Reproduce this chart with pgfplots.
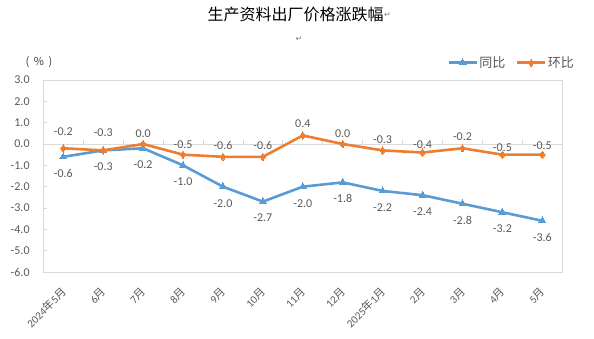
\documentclass[border=0pt]{standalone}
\usepackage{pgfplots}
\pgfplotsset{compat=1.18}
\usepackage{pgfplotstable}
\usepackage{fontspec}
\setmainfont{Carlito}
\newfontfamily\cjk{Noto Sans CJK SC}
\newfontfamily\dejavu{DejaVu Sans}
\definecolor{cblue}{HTML}{5B9BD5}
\definecolor{corange}{HTML}{ED7D31}
\definecolor{txt}{HTML}{595959}
\definecolor{gridc}{HTML}{D9D9D9}

\pgfplotstableread{
x y lab dy
0 -0.6 -0.6 -16.5
1 -0.3 -0.3 -16.5
2 -0.2 -0.2 -16.5
3 -1.0 -1.0 -16.5
4 -2.0 -2.0 -16.5
5 -2.7 -2.7 -16.5
6 -2.0 -2.0 -16.5
7 -1.8 -1.8 -16.5
8 -2.2 -2.2 -16.5
9 -2.4 -2.4 -16.5
10 -2.8 -2.8 -16.5
11 -3.2 -3.2 -16.5
12 -3.6 -3.6 -16.5
}\tongbi

\pgfplotstableread{
x y lab dy
0 -0.2 -0.2 17
1 -0.3 -0.3 17.5
2 0.0 0.0 10
3 -0.5 -0.5 9.7
4 -0.6 -0.6 11
5 -0.6 -0.6 11
6 0.4 0.4 12
7 0.0 0.0 10.4
8 -0.3 -0.3 10.7
9 -0.4 -0.4 7.7
10 -0.2 -0.2 11.7
11 -0.5 -0.5 7
12 -0.5 -0.5 9.3
}\huanbi

\newcommand{\nian}{{\cjk 年}}
\newcommand{\yue}{{\cjk 月}}
\newcommand{\dy}{0}

\begin{document}
\begin{tikzpicture}
\path[use as bounding box] (0,0) rectangle (594pt,338pt);
% title
\node[font=\cjk\fontsize{16}{16}\selectfont, text=black, inner sep=0pt] at (295.5pt,324pt) {生产资料出厂价格涨跌幅};
\node[font=\dejavu\fontsize{8}{8}\selectfont, text=gray, inner sep=0pt] at (387.5pt,323pt) {↵};
\node[font=\dejavu\fontsize{8}{8}\selectfont, text=gray, inner sep=0pt] at (299pt,299pt) {↵};
\node[font=\cjk\fontsize{11}{11}\selectfont, text=black!75, inner sep=0pt] at (39pt,276pt) {(\hspace{4.5pt}\%\hspace{4.5pt})};
\begin{axis}[
  at={(43.3pt,66pt)}, anchor=south west,
  width=519pt, height=192pt, scale only axis,
  xmin=-0.5, xmax=12.5, ymin=-6, ymax=3,
  axis line style={gridc, line width=0.8pt},
  xtick={0,...,12},
  xticklabels={2024\nian5\yue,6\yue,7\yue,8\yue,9\yue,10\yue,11\yue,12\yue,2025\nian1\yue,2\yue,3\yue,4\yue,5\yue},
  xtick style={draw=none},
  xticklabel style={rotate=45, anchor=north east, inner sep=0pt, xshift=-12pt, yshift=-8pt, font=\fontsize{11}{11}\selectfont, text=txt},
  ytick={-6,...,3},
  yticklabels={-6.0,-5.0,-4.0,-3.0,-2.0,-1.0,0.0,1.0,2.0,3.0},
  ytick pos=left,
  tick align=inside,
  major tick length=4pt,
  ytick style={gridc, line width=0.8pt},
  yticklabel style={anchor=east, inner sep=0pt, xshift=-13.5pt, font=\fontsize{12}{12}\selectfont, text=txt},
  clip=false,
  legend columns=2,
  legend style={at={(1.0254,1.090)}, anchor=east, draw=none, fill=none, inner sep=0pt, outer sep=0pt,
    /tikz/every even column/.append style={column sep=9pt},
    nodes={inner sep=1.5pt, text=txt, font=\cjk\fontsize{13}{13}\selectfont}},
  legend image code/.code={\draw[mark repeat=2,mark phase=2,#1] plot coordinates {(0pt,0pt) (14pt,0pt) (28pt,0pt)};},
  nodes near coords,
  point meta=explicit symbolic,
  visualization depends on={\thisrow{dy}\as\dy},
  nodes near coords style={anchor=center, yshift=\dy pt, font=\fontsize{12}{12}\selectfont, text=txt, inner sep=0pt},
]
\draw[gridc, line width=0.8pt] (axis cs:-0.5,0) -- (axis cs:12.5,0);
\pgfplotsinvokeforeach{0.5,1.5,...,11.5}{\draw[gridc, line width=0.8pt] (axis cs:#1,0) -- ([yshift=4pt]axis cs:#1,0);}
\addplot[cblue, line width=2.6pt, mark=triangle*, mark size=4pt, mark options={line width=0pt}] table[x=x, y=y, meta=lab] {\tongbi};
\addlegendentry{同比}
\addplot[corange, line width=2.6pt, mark=diamond*, mark size=3.6pt, mark options={line width=0pt}] table[x=x, y=y, meta=lab] {\huanbi};
\addlegendentry{环比}
\end{axis}
\end{tikzpicture}
\end{document}
